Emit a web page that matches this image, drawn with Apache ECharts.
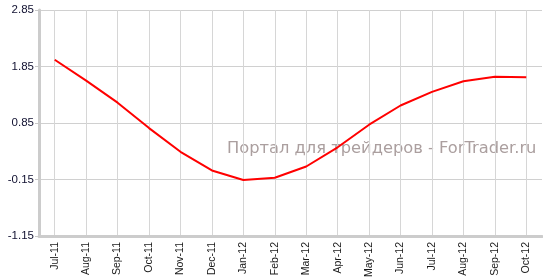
<!DOCTYPE html>
<html>
<head>
<meta charset="utf-8">
<script src="https://cdn.jsdelivr.net/npm/echarts@6/dist/echarts.min.js"></script>
<style>html,body{margin:0;padding:0;background:#fff;}#c{width:543px;height:280px;}</style>
</head>
<body>
<div id="c"></div>
<script>
var categories = ['Jul-11','Aug-11','Sep-11','Oct-11','Nov-11','Dec-11','Jan-12','Feb-12','Mar-12','Apr-12','May-12','Jun-12','Jul-12','Aug-12','Sep-12','Oct-12'];
var values = [1.97,1.60,1.21,0.76,0.34,0.01,-0.16,-0.12,0.08,0.42,0.82,1.16,1.40,1.59,1.67,1.66];
var yTicks = [-1.15,-0.15,0.85,1.85,2.85];
var watermark = 'Портал для трейдеров - ForTrader.ru';

var SHIFT = 0.15; // axis drawn from -1..3 so min is a multiple of interval
var chart = echarts.init(document.getElementById('c'), null, {renderer:'canvas'});
chart.setOption({
  animation:false,
  backgroundColor:'#fff',
  grid:{left:39,right:1,top:10,bottom:40,containLabel:false},
  graphic:[{type:'text',left:227,top:141,z:-1,style:{text:watermark,fill:'#ab9f9f',font:'16.3px "DejaVu Sans"'}}],
  xAxis:{type:'category',data:categories,boundaryGap:true,
    axisLine:{onZero:false,lineStyle:{color:'#cccccc',width:3}},
    axisTick:{alignWithLabel:true,length:4,lineStyle:{color:'#c8c8c8'}},
    splitLine:{show:true,alignWithLabel:true,lineStyle:{color:'#d6d6d6',width:1}},
    axisLabel:{rotate:90,color:'#1a1a1a',fontSize:10.5,fontFamily:'"Liberation Sans"',margin:6,interval:0}
  },
  yAxis:{type:'value',min:yTicks[0]+SHIFT,max:yTicks[yTicks.length-1]+SHIFT,interval:1,
    axisLine:{show:true,lineStyle:{color:'#cccccc',width:3}},
    axisTick:{show:true,length:4,lineStyle:{color:'#c8c8c8'}},
    splitLine:{lineStyle:{color:'#d0d0d0',width:1}},
    axisLabel:{color:'#101030',fontSize:11.5,fontFamily:'"Liberation Sans"',margin:5,
      formatter:function(v){return (v-SHIFT).toFixed(2);}}
  },
  series:[{type:'line',data:values.map(function(v){return +(v+SHIFT).toFixed(4);}),
    symbol:'none',lineStyle:{color:'#ff0000',width:2},z:3}]
});
</script>
</body>
</html>
